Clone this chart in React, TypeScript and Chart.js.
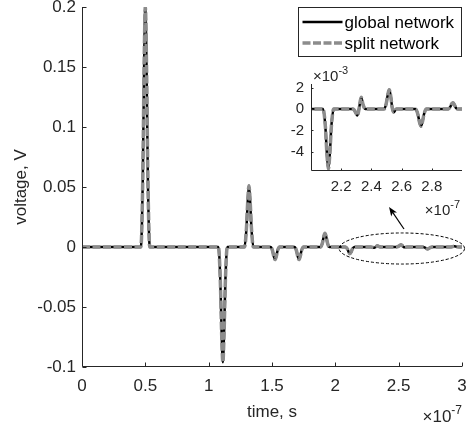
import React, { useEffect, useRef } from 'react';
import { Chart, registerables } from 'chart.js';

Chart.register(...registerables);

// time in units of 1e-7 s
const timeE7 = [
  0,
  0.465, 0.48, 0.49, 0.5, 0.51, 0.52, 0.535,
  1.077, 1.092, 1.102, 1.112, 1.122, 1.132, 1.147,
  1.283, 1.298, 1.308, 1.318, 1.328, 1.338, 1.353,
  1.489, 1.504, 1.514, 1.524, 1.534, 1.544, 1.559,
  1.678, 1.693, 1.703, 1.713, 1.723, 1.733, 1.748,
  1.883, 1.898, 1.908, 1.918, 1.928, 1.938, 1.953,
  2.08, 2.095, 2.105, 2.115, 2.125, 2.135, 2.15,
  2.28, 2.295, 2.307, 2.318, 2.332, 2.345, 2.36,
  2.483, 2.498, 2.508, 2.518, 2.528, 2.538, 2.548, 2.565,
  2.693, 2.708, 2.718, 2.728, 2.738, 2.748, 2.763,
  2.91, 2.922, 2.932, 2.94, 2.95, 2.96, 2.975,
  3.0,
];

// voltage, V
const globalNetwork = [
  0,
  0, 0.058, 0.147, 0.2, 0.147, 0.058, 0,
  0, -0.028, -0.07, -0.096, -0.07, -0.028, 0,
  0, 0.015, 0.037, 0.051, 0.037, 0.015, 0,
  0, -0.003, -0.0077, -0.0105, -0.0077, -0.003, 0,
  0, -0.003, -0.0077, -0.0105, -0.0077, -0.003, 0,
  0, 0.0033, 0.0084, 0.0115, 0.0084, 0.0033, 0,
  0, -0.0016, -0.0041, -0.0056, -0.0041, -0.0016, 0,
  0, -0.0003, -0.0006, 0, 0.0011, 0.0004, 0,
  0, 0.0005, 0.0013, 0.0018, 0.0012, 0.0001, -0.0003, 0,
  0, -0.0005, -0.0012, -0.0016, -0.0012, -0.0005, 0,
  0, 0.0002, 0.0005, 0.0006, 0.0004, 0.0001, 0,
  0,
];

const splitNetwork = [
  0,
  0, 0.058, 0.147, 0.2, 0.147, 0.058, 0,
  0, -0.028, -0.07, -0.096, -0.07, -0.028, 0,
  0, 0.015, 0.037, 0.051, 0.037, 0.015, 0,
  0, -0.003, -0.0077, -0.0105, -0.0077, -0.003, 0,
  0, -0.003, -0.0077, -0.0105, -0.0077, -0.003, 0,
  0, 0.0033, 0.0084, 0.0115, 0.0084, 0.0033, 0,
  0, -0.0016, -0.0041, -0.0056, -0.0041, -0.0016, 0,
  0, -0.0003, -0.0006, 0, 0.0011, 0.0004, 0,
  0, 0.0005, 0.0013, 0.0018, 0.0012, 0.0001, -0.0003, 0,
  0, -0.0005, -0.0012, -0.0016, -0.0012, -0.0005, 0,
  0, 0.0002, 0.0005, 0.0006, 0.0004, 0.0001, 0,
  0,
];

const seriesNames = ['global network', 'split network'];
const mainXTicks = [0, 0.5, 1, 1.5, 2, 2.5, 3];
const mainYTicks = [-0.1, -0.05, 0, 0.05, 0.1, 0.15, 0.2];
const insetXTicks = [2.2, 2.4, 2.6, 2.8];
const insetYTicks = [-4, -2, 0, 2];
const insetXRange = [2.0, 3.0];
const insetYRange = [-5.8, 2.35];

const FONT = "'Liberation Sans', Arial, Helvetica, sans-serif";
const AXIS_COLOR = '#262626';
const GLOBAL_COLOR = '#000000';
const SPLIT_COLOR = '#8c8c8c';

const matlabAxes = {
  id: 'matlabAxes',
  afterDatasetsDraw(chart: any, _args: any, opts: any) {
    const { ctx, chartArea: a, scales } = chart;
    const x = scales.x;
    const y = scales.y;
    const tl = opts.tickLen ?? 4;
    ctx.save();
    ctx.strokeStyle = AXIS_COLOR;
    ctx.lineWidth = 1;
    const L = Math.round(a.left) + 0.5;
    const B = Math.round(a.bottom) - 0.5;
    ctx.beginPath();
    ctx.moveTo(L, a.top);
    ctx.lineTo(L, B);
    ctx.lineTo(a.right, B);
    for (const t of x.ticks) {
      const px = Math.round(x.getPixelForValue(t.value)) + 0.5;
      ctx.moveTo(px, B);
      ctx.lineTo(px, B - tl);
    }
    for (const t of y.ticks) {
      const py = Math.round(y.getPixelForValue(t.value)) + 0.5;
      ctx.moveTo(L, py);
      ctx.lineTo(L + tl, py);
    }
    ctx.stroke();
    ctx.restore();
  },
};

function drawExponent(ctx: CanvasRenderingContext2D, x: number, baseline: number, exp: string, size: number, supSize: number, align: 'left' | 'right') {
  ctx.save();
  ctx.fillStyle = AXIS_COLOR;
  ctx.textBaseline = 'alphabetic';
  ctx.textAlign = 'left';
  ctx.font = `${supSize}px ${FONT}`;
  const wSup = ctx.measureText(exp).width;
  ctx.font = `${size}px ${FONT}`;
  const wBase = ctx.measureText('×10').width;
  const start = align === 'right' ? x - wSup - wBase : x;
  ctx.fillText('×10', start, baseline);
  ctx.font = `${supSize}px ${FONT}`;
  ctx.fillText(exp, start + wBase, baseline - size * 0.45);
  ctx.restore();
}

const mainDecor = {
  id: 'mainDecor',
  afterDraw(chart: any) {
    const { ctx, chartArea: a, scales } = chart;
    const x = scales.x;
    const y = scales.y;
    drawExponent(ctx, a.right, a.bottom + 55, '-7', 17, 12, 'right');

    // dashed ellipse around the zoomed region
    const ex0 = x.getPixelForValue(2.03);
    const ex1 = x.getPixelForValue(3.02);
    const ey0 = y.getPixelForValue(0.0117);
    const ey1 = y.getPixelForValue(-0.0142);
    ctx.save();
    ctx.strokeStyle = '#000';
    ctx.lineWidth = 1;
    ctx.setLineDash([3, 2]);
    ctx.beginPath();
    ctx.ellipse((ex0 + ex1) / 2, (ey0 + ey1) / 2, (ex1 - ex0) / 2, (ey1 - ey0) / 2, 0, 0, Math.PI * 2);
    ctx.stroke();
    ctx.restore();

    // arrow toward the inset
    const tx = x.getPixelForValue(2.542);
    const ty = y.getPixelForValue(0.015);
    const hx = x.getPixelForValue(2.424);
    const hy = y.getPixelForValue(0.0333);
    const ang = Math.atan2(hy - ty, hx - tx);
    ctx.save();
    ctx.strokeStyle = '#000';
    ctx.fillStyle = '#000';
    ctx.lineWidth = 1.2;
    ctx.beginPath();
    ctx.moveTo(tx, ty);
    ctx.lineTo(hx - Math.cos(ang) * 5, hy - Math.sin(ang) * 5);
    ctx.stroke();
    const len = 9;
    const half = 3.5;
    ctx.beginPath();
    ctx.moveTo(hx, hy);
    ctx.lineTo(hx - Math.cos(ang) * len + Math.sin(ang) * half, hy - Math.sin(ang) * len - Math.cos(ang) * half);
    ctx.lineTo(hx - Math.cos(ang) * len * 0.75, hy - Math.sin(ang) * len * 0.75);
    ctx.lineTo(hx - Math.cos(ang) * len - Math.sin(ang) * half, hy - Math.sin(ang) * len + Math.cos(ang) * half);
    ctx.closePath();
    ctx.fill();
    ctx.restore();

    // legend box
    const ds = chart.data.datasets;
    const bx0 = Math.round(a.right - 164) + 0.5;
    const by0 = Math.round(a.top) + 0.5;
    const bw = 163;
    const bh = 49;
    ctx.save();
    ctx.fillStyle = '#fff';
    ctx.fillRect(bx0, by0, bw, bh);
    ctx.strokeStyle = AXIS_COLOR;
    ctx.lineWidth = 1;
    ctx.strokeRect(bx0, by0, bw, bh);
    const rows = [by0 + 14.5, by0 + 35.5];
    ds.forEach((d: any, i: number) => {
      ctx.save();
      ctx.strokeStyle = d.borderColor;
      ctx.lineWidth = d.borderWidth;
      ctx.setLineDash(d.borderDash || []);
      ctx.beginPath();
      ctx.moveTo(bx0 + 4, rows[i]);
      ctx.lineTo(bx0 + 44, rows[i]);
      ctx.stroke();
      ctx.restore();
      ctx.fillStyle = '#000';
      ctx.font = `17px ${FONT}`;
      ctx.textAlign = 'left';
      ctx.textBaseline = 'middle';
      ctx.fillText(d.label, bx0 + 46, rows[i] + 1);
    });
    ctx.restore();
  },
};

const insetDecor = {
  id: 'insetDecor',
  afterDraw(chart: any) {
    const { ctx, chartArea: a } = chart;
    drawExponent(ctx, a.left + 2, a.top - 3, '-3', 15, 11, 'left');
    drawExponent(ctx, a.right - 2, a.bottom + 44, '-7', 15, 11, 'right');
  },
};

function makeDatasets(xs: number[], g: number[], s: number[]) {
  return [
    {
      label: seriesNames[0],
      data: xs.map((t, i) => ({ x: t, y: g[i] })),
      borderColor: GLOBAL_COLOR,
      borderWidth: 2.5,
      pointRadius: 0,
      fill: false,
      cubicInterpolationMode: 'monotone',
      order: 2,
    },
    {
      label: seriesNames[1],
      data: xs.map((t, i) => ({ x: t, y: s[i] })),
      borderColor: SPLIT_COLOR,
      borderWidth: 3.5,
      borderDash: [8, 2.5],
      pointRadius: 0,
      fill: false,
      cubicInterpolationMode: 'monotone',
      order: 1,
    },
  ];
}

function fmt(v: number) {
  return String(Math.round(v * 1e6) / 1e6);
}

export default function App() {
  const mainRef = useRef<HTMLCanvasElement>(null);
  const insetRef = useRef<HTMLCanvasElement>(null);

  useEffect(() => {
    const font17 = { family: FONT, size: 17 };
    const font15 = { family: FONT, size: 15 };
    const noGrid = { display: false, drawTicks: false, tickLength: 0 };
    const main = new Chart(mainRef.current!, {
      type: 'line',
      data: { datasets: makeDatasets(timeE7, globalNetwork, splitNetwork) as any },
      options: {
        animation: false,
        responsive: false,
        maintainAspectRatio: false,
        events: [],
        layout: { padding: { left: 0, right: 9, top: 7, bottom: 0 } },
        plugins: {
          legend: { display: false },
          tooltip: { enabled: false },
          matlabAxes: { tickLen: 4 },
        } as any,
        scales: {
          x: {
            type: 'linear',
            min: 0,
            max: 3,
            grid: noGrid,
            border: { display: false },
            ticks: { padding: 9, font: font17, color: AXIS_COLOR, maxRotation: 0, autoSkip: false, callback: (v: any) => fmt(Number(v)) },
            afterBuildTicks: (s: any) => { s.ticks = mainXTicks.map((v) => ({ value: v })); },
            afterFit: (s: any) => { s.height = 61; s.paddingLeft = 0; s.paddingRight = 0; },
            title: { display: true, text: 'time, s', font: font17, color: AXIS_COLOR, padding: { top: 0, bottom: 5 } },
          },
          y: {
            type: 'linear',
            min: -0.1,
            max: 0.2,
            grid: noGrid,
            border: { display: false },
            ticks: { padding: 6, font: font17, color: AXIS_COLOR, autoSkip: false, callback: (v: any) => fmt(Number(v)) },
            afterBuildTicks: (s: any) => { s.ticks = mainYTicks.map((v) => ({ value: v })); },
            afterFit: (s: any) => { s.width = 82; s.paddingTop = 0; s.paddingBottom = 0; },
            title: { display: true, text: 'voltage, V', font: font17, color: AXIS_COLOR, padding: { top: 11, bottom: 0 } },
          },
        },
      },
      plugins: [matlabAxes, mainDecor],
    } as any);

    const keep = timeE7.map((t) => t >= insetXRange[0] - 0.05);
    const ix = timeE7.filter((_, i) => keep[i]);
    const ig = globalNetwork.filter((_, i) => keep[i]).map((v) => v * 1000);
    const is = splitNetwork.filter((_, i) => keep[i]).map((v) => v * 1000);

    const inset = new Chart(insetRef.current!, {
      type: 'line',
      data: { datasets: makeDatasets(ix, ig, is) as any },
      options: {
        animation: false,
        responsive: false,
        maintainAspectRatio: false,
        events: [],
        layout: { padding: { left: 0, right: 9, top: 24, bottom: 0 } },
        plugins: {
          legend: { display: false },
          tooltip: { enabled: false },
          matlabAxes: { tickLen: 2 },
        } as any,
        scales: {
          x: {
            type: 'linear',
            min: insetXRange[0],
            max: insetXRange[1],
            grid: noGrid,
            border: { display: false },
            ticks: { padding: 7, font: font15, color: AXIS_COLOR, maxRotation: 0, autoSkip: false, callback: (v: any) => fmt(Number(v)) },
            afterBuildTicks: (s: any) => { s.ticks = insetXTicks.map((v) => ({ value: v })); },
            afterFit: (s: any) => { s.height = 49; s.paddingLeft = 0; s.paddingRight = 0; },
          },
          y: {
            type: 'linear',
            min: insetYRange[0],
            max: insetYRange[1],
            grid: noGrid,
            border: { display: false },
            ticks: { padding: 7, font: font15, color: AXIS_COLOR, autoSkip: false, callback: (v: any) => fmt(Number(v)) },
            afterBuildTicks: (s: any) => { s.ticks = insetYTicks.map((v) => ({ value: v })); },
            afterFit: (s: any) => { s.width = 51; s.paddingTop = 0; s.paddingBottom = 0; },
          },
        },
      },
      plugins: [matlabAxes, insetDecor],
    } as any);

    return () => {
      main.destroy();
      inset.destroy();
    };
  }, []);

  return (
    <div style={{ position: 'absolute', left: 0, top: 0, width: 471, height: 428, background: '#fff' }}>
      <canvas ref={mainRef} width={471} height={428} style={{ position: 'absolute', left: 0, top: 0, width: 471, height: 428 }} />
      <canvas ref={insetRef} width={211} height={160} style={{ position: 'absolute', left: 260, top: 60, width: 211, height: 160 }} />
    </div>
  );
}
